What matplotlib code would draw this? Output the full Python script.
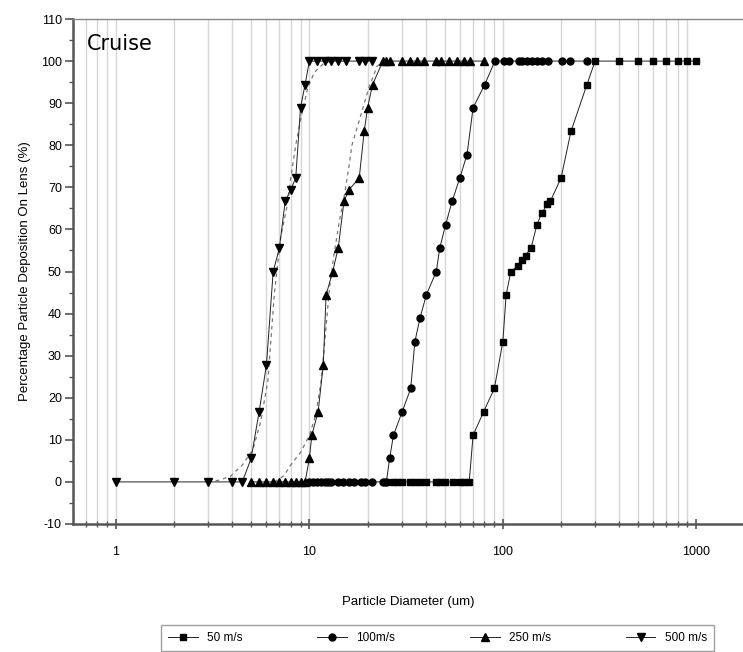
import numpy as np
import matplotlib.pyplot as plt
from matplotlib.ticker import FixedLocator, NullFormatter

plt.rcParams['font.family'] = ['Liberation Sans', 'DejaVu Sans']
plt.rcParams['axes.unicode_minus'] = False

# 500 m/s
d500 = [1, 2, 3, 4, 4.5, 5, 5.5, 6, 6.5, 7, 7.5, 8, 8.5, 9, 9.5,
        10, 11, 12, 13, 14, 15.5, 18, 19.5, 21]
p500 = [0, 0, 0, 0, 0, 5.6, 16.7, 27.8, 50, 55.6, 66.7, 69.4, 72.2, 88.9, 94.4,
        100, 100, 100, 100, 100, 100, 100, 100, 100]

# 250 m/s
d250 = [5, 5.5, 6, 6.5, 7, 7.5, 8, 8.5, 9, 9.5,
        10, 10.3, 11.1, 11.8, 12.2, 13.2, 14.1, 15.1, 16, 18.1, 19.2, 20, 21.2,
        24, 25, 26, 30, 33, 36, 39, 45, 48, 53, 58, 63, 68, 80]
p250 = [0, 0, 0, 0, 0, 0, 0, 0, 0, 0,
        5.6, 11.1, 16.7, 27.8, 44.4, 50, 55.6, 66.7, 69.4, 72.2, 83.3, 88.9, 94.4,
        100, 100, 100, 100, 100, 100, 100, 100, 100, 100, 100, 100, 100, 100]

# 100 m/s
d100 = [10, 10.5, 11, 11.5, 12, 12.5, 13, 14, 15, 16, 17, 18.5, 19.5, 21, 24, 25,
        26, 27.2, 30.2, 33.4, 35.1, 37.3, 40.2, 45.3, 47.2, 50.6, 54.7, 59.9, 65.3,
        70.2, 80.6, 91, 101, 107, 121, 126, 133, 141, 150, 159, 172, 202, 223, 272]
p100 = [0, 0, 0, 0, 0, 0, 0, 0, 0, 0, 0, 0, 0, 0, 0, 0,
        5.6, 11.1, 16.7, 22.2, 33.3, 38.9, 44.4, 50, 55.6, 61.1, 66.7, 72.2, 77.8,
        88.9, 94.4, 100, 100, 100, 100, 100, 100, 100, 100, 100, 100, 100, 100, 100]

# 50 m/s
d50 = [25, 27, 28.5, 30, 33, 35, 37.5, 40, 45, 47.5, 50, 55, 60, 63, 67,
       70.2, 79.6, 90.4, 100, 104, 110, 120, 126, 131, 140, 150, 159, 170, 176,
       200, 225, 272, 300, 400, 500, 600, 700, 800, 900, 1000]
p50 = [0, 0, 0, 0, 0, 0, 0, 0, 0, 0, 0, 0, 0, 0, 0,
       11.1, 16.7, 22.2, 33.3, 44.4, 50, 51.4, 52.7, 53.8, 55.6, 61.1, 63.9, 66, 66.7,
       72.2, 83.3, 94.4, 100, 100, 100, 100, 100, 100, 100, 100]

# dashed curves (500 and 250 m/s)
dash500_d = [3.0, 3.4, 3.9, 4.5, 5.1, 5.6, 6.1, 6.6, 7.1, 7.7, 8.0, 8.5, 9.0, 9.8, 10.6, 11.7, 12.8]
dash500_p = [0, 0.4, 1.3, 4.0, 7.6, 14.3, 24, 45, 58, 66, 72, 80, 86, 93.6, 97.3, 99.2, 100]
dash250_d = [6.6, 7.4, 8.0, 9.0, 10.0, 10.8, 11.5, 12.1, 12.7, 13.4, 14.3, 15.2, 15.9, 16.6, 18.4, 20.4, 22.4, 24.5]
dash250_p = [0, 1.5, 4.0, 7.0, 11, 16, 24, 35, 46, 54, 62, 68.3, 74, 80, 87, 94, 98.8, 100]

labels = ['50 m/s', '100m/s', '250 m/s', '500 m/s']
markers = ['s', 'o', '^', 'v']

fig = plt.figure(figsize=(7.43, 6.52), dpi=100)
ax = fig.add_axes([73 / 743, 128 / 652, 1 - 73 / 743 + 0.002, 505 / 652])

grid_x = ([0.7, 0.8, 0.9] + list(range(1, 10)) + list(range(10, 100, 10))
          + list(range(100, 1000, 100)))
for g in grid_x:
    ax.axvline(g, color='#d6d6d6', lw=1.0, zorder=0)

ax.plot(dash500_d, dash500_p, ls=(0, (3, 3)), color='#777777', lw=0.9, zorder=2)
ax.plot(dash250_d, dash250_p, ls=(0, (3, 3)), color='#777777', lw=0.9, zorder=2)

series = [(d50, p50), (d100, p100), (d250, p250), (d500, p500)]
sizes = [4.2, 5, 5.5, 5.5]
handles = []
for (d, p), m, s, lab in zip(series, markers, sizes, labels):
    h, = ax.plot(d, p, color='#222222', lw=0.7, marker=m, ms=s,
                 mfc='black', mec='black', label=lab, zorder=3)
    handles.append(h)

ax.set_xscale('log')
ax.set_xlim(0.6, 1775)
ax.set_ylim(-10, 110)
ax.set_yticks(range(-10, 111, 10))
ax.yaxis.set_minor_locator(FixedLocator(range(-5, 110, 10)))
ax.set_xticks([1, 10, 100, 1000])
ax.set_xticklabels(['1', '10', '100', '1000'])
ax.xaxis.set_minor_locator(FixedLocator([0.7, 0.8, 0.9] + list(range(2, 10))
                                        + list(range(20, 100, 10))
                                        + list(range(200, 1000, 100))))
ax.xaxis.set_minor_formatter(NullFormatter())

ax.tick_params(axis='y', which='major', direction='out', length=6, width=1.2,
               color='#555555', labelsize=9, pad=2)
ax.tick_params(axis='y', which='minor', direction='out', length=3, width=1.0,
               color='#555555')
ax.tick_params(axis='x', which='major', direction='inout', length=7, width=1.2,
               color='#555555', labelsize=9, pad=12)
ax.tick_params(axis='x', which='minor', direction='inout', length=5, width=1.0,
               color='#555555')

ax.spines['right'].set_visible(False)
ax.spines['top'].set_color('#888888')
ax.spines['top'].set_linewidth(1.0)
for s in ['left', 'bottom']:
    ax.spines[s].set_color('#555555')
    ax.spines[s].set_linewidth(1.8)

ax.set_xlabel('Particle Diameter (um)', fontsize=9.5, labelpad=28)
ax.set_ylabel('Percentage Particle Deposition On Lens (%)', fontsize=9.5, labelpad=7)

ax.text(0.02, 0.97, 'Cruise', transform=ax.transAxes, fontsize=15,
        family='DejaVu Sans', va='top', ha='left')

leg = fig.legend(handles, labels, loc='upper left',
                 bbox_to_anchor=(155 / 743, 1 - 619 / 652, 565 / 743, 0),
                 mode='expand', ncol=4, fontsize=8.5, frameon=True,
                 fancybox=False, edgecolor='#888888', handlelength=2.5,
                 borderpad=0.6, markerscale=1.0)
leg.get_frame().set_linewidth(1.0)

fig.savefig('out.png', dpi=100)
